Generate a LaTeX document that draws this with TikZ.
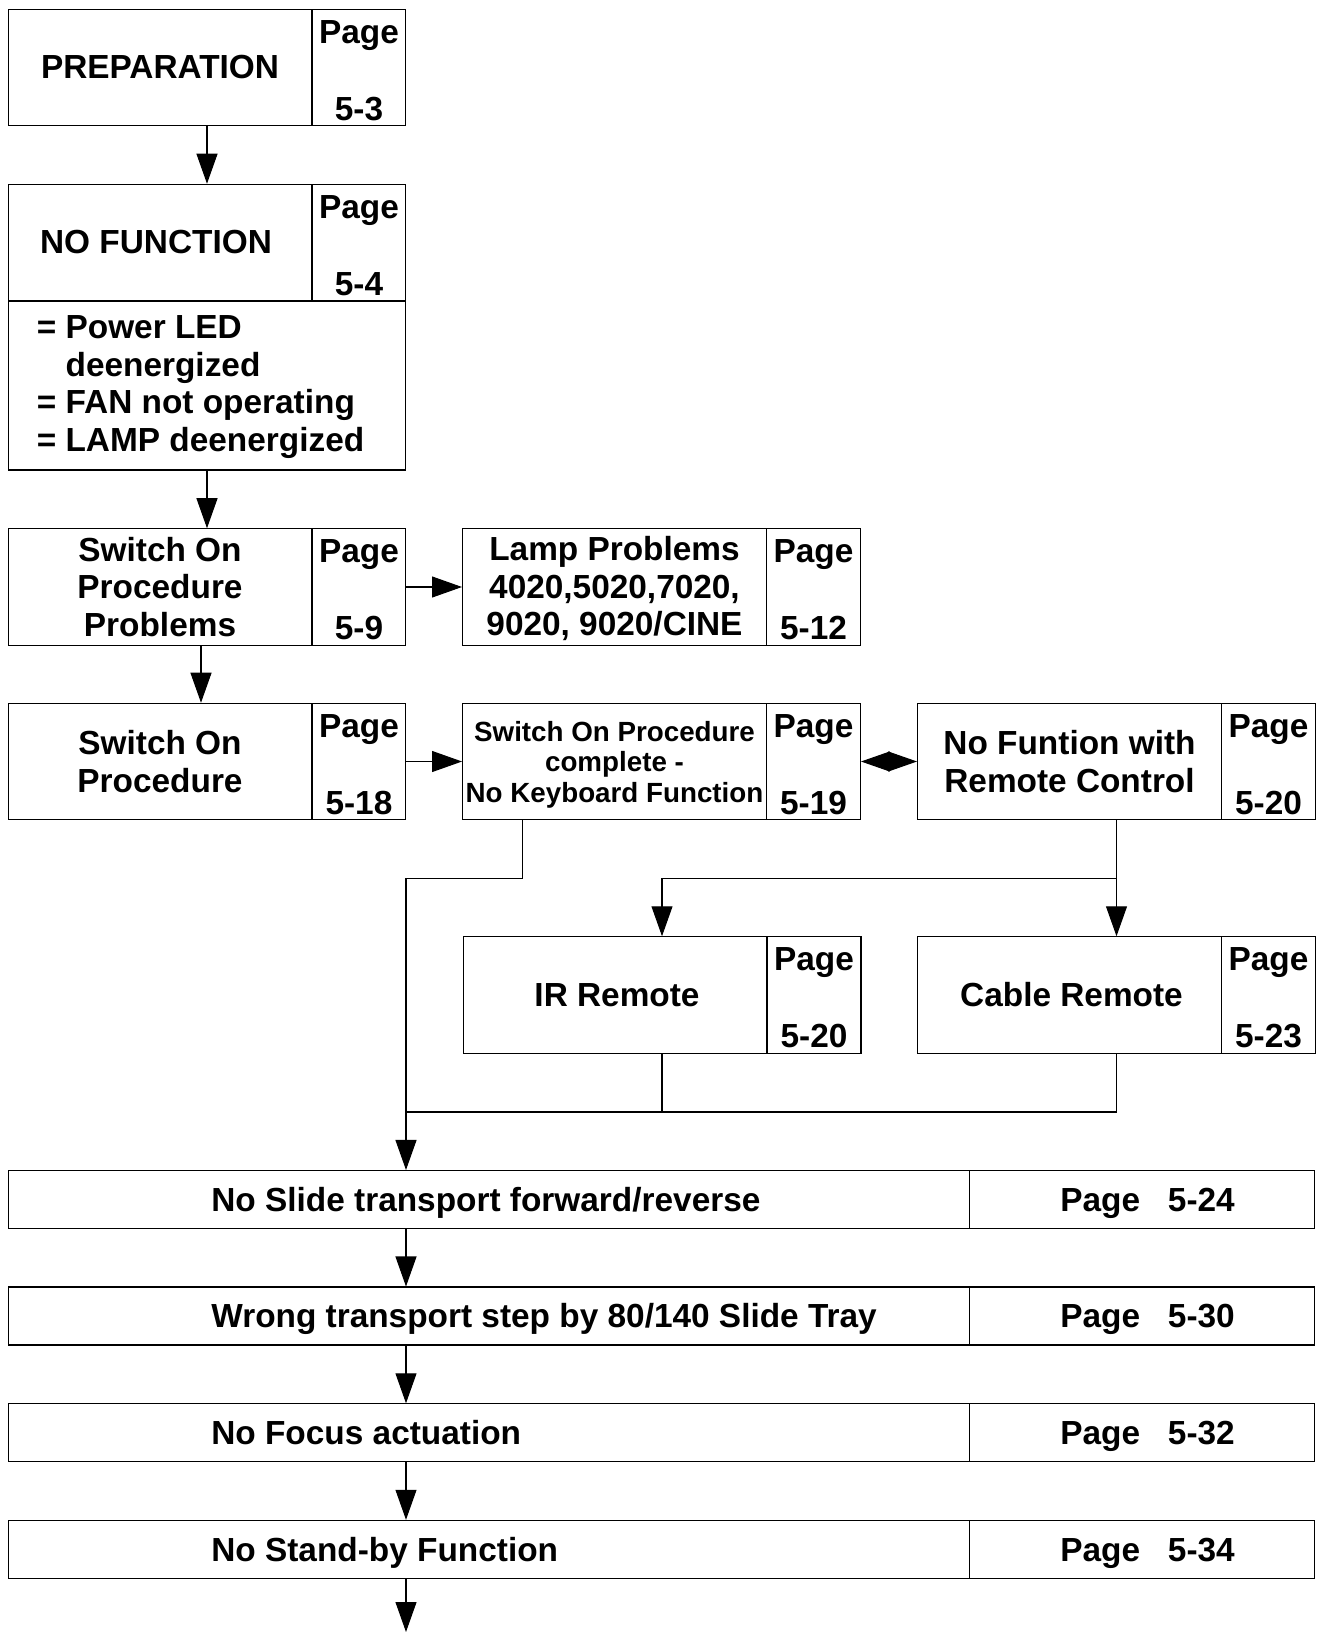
\documentclass[tikz,border=0pt]{standalone}
\usepackage{fontspec}
\setmainfont{Liberation Sans}
\usetikzlibrary{arrows.meta}

\newcommand{\pgref}[1]{\rule{0pt}{16.5pt}Page\\[22.6pt]#1}

\tikzset{
  box/.style={draw, line width=0.6pt, inner sep=0pt},
  small/.style={box, minimum width=7.96cm, minimum height=2.33cm},
  pagecell/.style={draw, line width=0.6pt, inner sep=0pt, minimum width=1.88cm,
    minimum height=2.33cm, align=center, font=\bfseries\fontsize{19}{21.3}\selectfont},
  txt/.style={inner sep=0pt, align=center, font=\bfseries\fontsize{19}{21.3}\selectfont},
  arr/.style={line width=0.6pt, -{Triangle[length=0.6cm,width=0.42cm]}},
  dbl/.style={line width=0.6pt, {Triangle[length=0.58cm,width=0.4cm]}-{Triangle[length=0.58cm,width=0.4cm]}},
  link/.style={line width=0.6pt}
}

\begin{document}
\begin{tikzpicture}[x=0.02cm, y=-0.02cm]
  \useasboundingbox (0,0) rectangle (1318,1632);

  % left column
  \node[small] (prep) at (207,67.5) {};
  \node[pagecell, anchor=north east] (prepPg) at (prep.north east) {\pgref{5-3}};
  \node[txt] (prepT) at ([xshift=-0.94cm]prep.center) {PREPARATION};

  \node[small] (nofn) at (207,242.5) {};
  \node[pagecell, anchor=north east] (nofnPg) at (nofn.north east) {\pgref{5-4}};
  \node[txt] (nofnT) at ([xshift=-1.02cm]nofn.center) {NO FUNCTION};

  \node[box, minimum width=7.96cm, minimum height=3.38cm] (desc) at (207,385.5) {};
  \node[txt, align=left, anchor=west] (descT) at (36.5,387)
    {= Power LED\\\phantom{=} deenergized\\= FAN not operating\\= LAMP deenergized};

  \node[small] (sopp) at (207,587) {};
  \node[pagecell, anchor=north east] (soppPg) at (sopp.north east) {\pgref{5-9}};
  \node[txt] (soppT) at ([xshift=-0.94cm]sopp.center) {Switch On\\Procedure\\Problems};

  \node[small] (sop) at (207,761.5) {};
  \node[pagecell, anchor=north east] (sopPg) at (sop.north east) {\pgref{5-18}};
  \node[txt] (sopT) at ([xshift=-0.94cm]sop.center) {Switch On\\Procedure};

  % right columns
  \node[small] (lamp) at (661.5,587) {};
  \node[pagecell, anchor=north east] (lampPg) at (lamp.north east) {\pgref{5-12}};
  \node[txt] (lampT) at ([xshift=-0.94cm,yshift=-0.03cm]lamp.center) {Lamp Problems\\4020,5020,7020,\\9020, 9020/CINE};

  \node[small] (sopc) at (661.5,761.5) {};
  \node[pagecell, anchor=north east] (sopcPg) at (sopc.north east) {\pgref{5-19}};
  \node[txt, font=\bfseries\fontsize{15.8}{17.4}\selectfont] (sopcT) at ([xshift=-0.94cm,yshift=-0.06cm]sopc.center)
    {Switch On Procedure\\complete -\\No Keyboard Function};

  \node[small] (nfrc) at (1116.5,761.5) {};
  \node[pagecell, anchor=north east] (nfrcPg) at (nfrc.north east) {\pgref{5-20}};
  \node[txt] (nfrcT) at ([xshift=-0.94cm]nfrc.center) {No Funtion with\\Remote Control};

  \node[small] (ir) at (662,995) {};
  \node[pagecell, anchor=north east] (irPg) at (ir.north east) {\pgref{5-20}};
  \node[txt] (irT) at ([xshift=-0.9cm]ir.center) {IR Remote};

  \node[small] (cable) at (1116.5,995) {};
  \node[pagecell, anchor=north east] (cablePg) at (cable.north east) {\pgref{5-23}};
  \node[txt] (cableT) at ([xshift=-0.9cm]cable.center) {Cable Remote};

  % wide rows
  \foreach \id/\ypos/\desc/\pnum in {slide/1199.5/{No Slide transport forward/reverse}/5-24,
                                     wrong/1316/{Wrong transport step by 80/140 Slide Tray}/5-30,
                                     focus/1432.8/{No Focus actuation}/5-32,
                                     stby/1549.3/{No Stand-by Function}/5-34} {
    \node[box, minimum width=26.14cm, minimum height=1.16cm] (\id) at (661.5,\ypos) {};
    \node[pagecell, minimum width=6.9cm, minimum height=1.16cm, text height=13.6pt, text depth=0pt,
      anchor=north east] (\id Pg) at (\id.north east) {\hspace*{5.9pt}Page\ \ \ \pnum};
    \node[txt, text height=13.6pt, text depth=0pt, anchor=west] (\id T) at (211,\ypos) {\desc};
  }

  \coordinate (split) at (1116.5,878.5);
  \coordinate (bend) at (406,878.5);
  \coordinate (join) at (406,1112);
  \coordinate (exit) at (406,1632);

  % connectors
  \draw[arr] (prep) -- (nofn);
  \draw[arr] (desc) -- (sopp);
  \draw[arr] ([xshift=-1.2mm]sopp.south) -- ([xshift=-1.2mm]sop.north);
  \draw[arr] (sopp) -- (lamp);
  \draw[arr] (sop) -- (sopc);
  \draw[dbl] (sopc) -- (nfrc);
  \draw[arr] (nfrc) -- (cable);
  \draw[arr] (split) -| (ir.north);
  \draw[arr] ([xshift=-2.79cm]sopc.south) |- (bend) -- (slide.north -| bend);
  \draw[link] (ir.south) |- (join);
  \draw[link] (cable.south) |- (join);
  \draw[arr] (slide.south -| bend) -- (wrong.north -| bend);
  \draw[arr] (wrong.south -| bend) -- (focus.north -| bend);
  \draw[arr] (focus.south -| bend) -- (stby.north -| bend);
  \draw[arr] (stby.south -| bend) -- (exit);
\end{tikzpicture}
\end{document}
